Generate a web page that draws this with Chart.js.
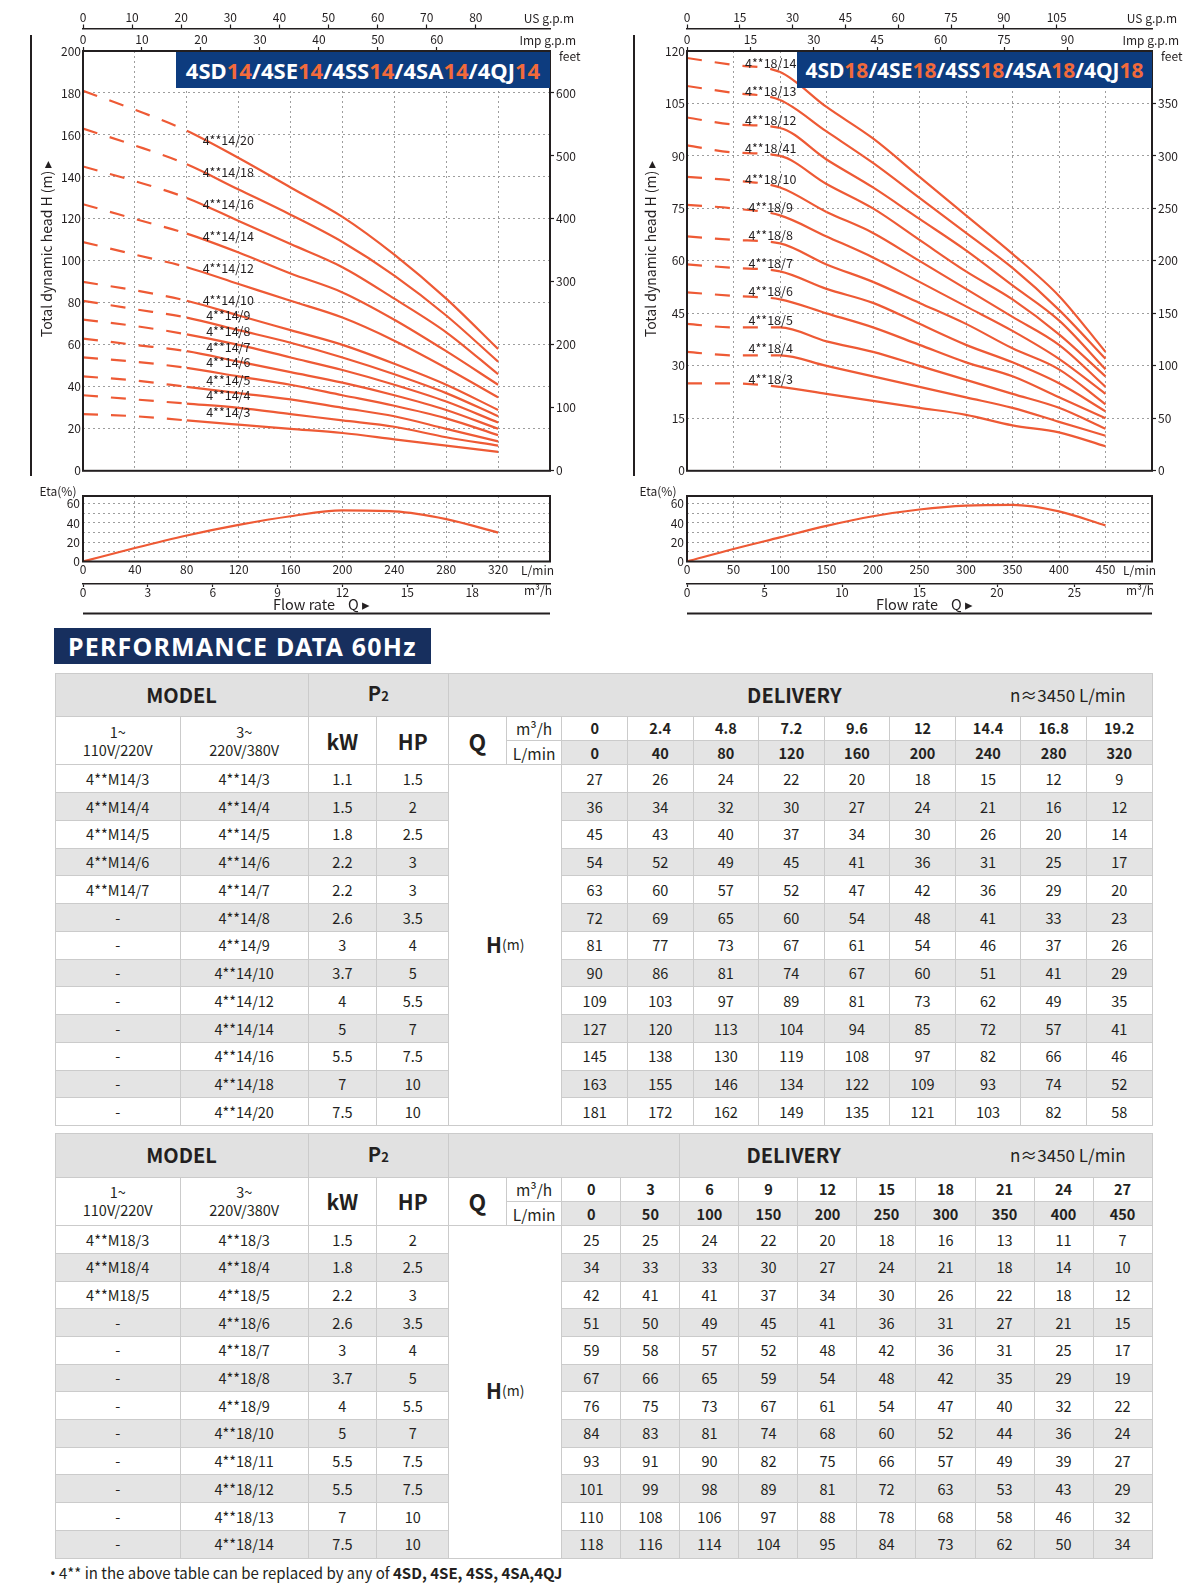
<!DOCTYPE html>
<html>
<head>
<meta charset="utf-8">
<title>4SD14 / 4SD18 performance 60Hz</title>
<script src="https://cdn.jsdelivr.net/npm/chart.js@4.4.1/dist/chart.umd.min.js"></script>
<style>
  body { margin: 0; background: #fff; }
  #page { position: relative; width: 1200px; height: 1587px; overflow: hidden; font-family: "Noto Sans CJK SC", "Noto Sans", sans-serif; color: #231f20; }
  canvas { position: absolute; }
  .vbar { position: absolute; top: 35px; width: 2px; height: 441px; background: #231f20; }
  .tag { position: absolute; top: 52px; height: 36px; background: #0d3c7f; color: #fff; font-family: "Noto Sans", sans-serif; font-weight: 700; font-size: 22px; line-height: 36px; text-align: center; white-space: nowrap; }
  .tag span { color: #f26a3b; }
  .banner { position: absolute; left: 54px; top: 628px; width: 377px; height: 36px; box-sizing: border-box; padding-left: 14px; background: #172f5e; color: #fff; font-family: "Noto Sans", sans-serif; font-weight: 700; font-size: 25px; line-height: 36px; letter-spacing: 1.2px; white-space: nowrap; }
  table.perf { position: absolute; left: 54.5px; width: 1097px; border-collapse: collapse; table-layout: fixed; text-align: center; font-size: 14.5px; color: #231f20; }
  table.perf td { border: 1px solid #cbcbcb; padding: 0; white-space: nowrap; line-height: 18px; }
  .h1 td { background: #e1e1e1; font-weight: 700; font-size: 20px; }
  .sub2 { font-size: 13px; }
  .dl { position: relative; height: 42px; }
  .dl span { position: absolute; top: 0; line-height: 42px; }
  .dl .rpm { right: 26px; font-weight: 400; font-size: 17px; }
  .v { font-size: 14.5px; }
  .big { font-weight: 700; font-size: 21px; }
  .q { font-weight: 700; font-size: 23px; }
  .u { font-size: 15.5px; }
  .hd { font-weight: 700; }
  .g { background: #e4e4e4; }
  .hm { background: #fff; }
  .hm b { font-size: 21px; }
  .hm small { font-size: 14px; position: relative; top: -3px; }
  .note { position: absolute; left: 50px; top: 1562px; font-size: 15px; white-space: nowrap; }
  .note .dot { font-family: "Noto Sans", sans-serif; }
</style>
</head>
<body>
<div id="page">
  <div class="vbar" style="left:29.5px"></div>
  <div class="vbar" style="left:632.5px"></div>
  <canvas id="headL" width="600" height="480" style="left:0;top:0"></canvas>
  <canvas id="etaL" width="600" height="144" style="left:0;top:478px"></canvas>
  <canvas id="headR" width="600" height="480" style="left:600px;top:0"></canvas>
  <canvas id="etaR" width="600" height="144" style="left:600px;top:478px"></canvas>
  <div class="tag" style="left:176px;width:374px">4SD<span>14</span>/4SE<span>14</span>/4SS<span>14</span>/4SA<span>14</span>/4QJ<span>14</span></div>
  <div class="tag" style="left:797px;width:355px;font-size:21px">4SD<span>18</span>/4SE<span>18</span>/4SS<span>18</span>/4SA<span>18</span>/4QJ<span>18</span></div>
  <div class="banner">PERFORMANCE DATA 60Hz</div>
  <table class="perf" id="tab14" style="top:672.8px"></table>
  <table class="perf" id="tab18" style="top:1133.2px"></table>
  <div class="note"><span class="dot">•</span> 4** in the above table can be replaced by any of <b>4SD, 4SE, 4SS, 4SA,4QJ</b></div>
</div>
<script>
// ---- 4**14 series ----
const flow14 = [0, 40, 80, 120, 160, 200, 240, 280, 320];
const m3h14 = [0, 2.4, 4.8, 7.2, 9.6, 12, 14.4, 16.8, 19.2];
const single14 = ['4**M14/3', '4**M14/4', '4**M14/5', '4**M14/6', '4**M14/7', '-', '-', '-', '-', '-', '-', '-', '-'];
const three14 = ['4**14/3', '4**14/4', '4**14/5', '4**14/6', '4**14/7', '4**14/8', '4**14/9', '4**14/10', '4**14/12', '4**14/14', '4**14/16', '4**14/18', '4**14/20'];
const kw14 = [1.1, 1.5, 1.8, 2.2, 2.2, 2.6, 3, 3.7, 4, 5, 5.5, 7, 7.5];
const hp14 = [1.5, 2, 2.5, 3, 3, 3.5, 4, 5, 5.5, 7, 7.5, 10, 10];
const head14 = [
  [27, 26, 24, 22, 20, 18, 15, 12, 9],
  [36, 34, 32, 30, 27, 24, 21, 16, 12],
  [45, 43, 40, 37, 34, 30, 26, 20, 14],
  [54, 52, 49, 45, 41, 36, 31, 25, 17],
  [63, 60, 57, 52, 47, 42, 36, 29, 20],
  [72, 69, 65, 60, 54, 48, 41, 33, 23],
  [81, 77, 73, 67, 61, 54, 46, 37, 26],
  [90, 86, 81, 74, 67, 60, 51, 41, 29],
  [109, 103, 97, 89, 81, 73, 62, 49, 35],
  [127, 120, 113, 104, 94, 85, 72, 57, 41],
  [145, 138, 130, 119, 108, 97, 82, 66, 46],
  [163, 155, 146, 134, 122, 109, 93, 74, 52],
  [181, 172, 162, 149, 135, 121, 103, 82, 58]
];
const curveNames14 = three14;
const eta14 = [0, 14, 27, 38, 47, 53, 52, 44, 30];
const usTicks14 = [0, 10, 20, 30, 40, 50, 60, 70, 80];
const impTicks14 = [0, 10, 20, 30, 40, 50, 60];
const feetTicks14 = [0, 100, 200, 300, 400, 500, 600];
const headTicks14 = [0, 20, 40, 60, 80, 100, 120, 140, 160, 180, 200];
const lminTicks14 = [0, 40, 80, 120, 160, 200, 240, 280, 320];
const m3Ticks14 = [0, 3, 6, 9, 12, 15, 18];

// ---- 4**18 series ----
const flow18 = [0, 50, 100, 150, 200, 250, 300, 350, 400, 450];
const m3h18 = [0, 3, 6, 9, 12, 15, 18, 21, 24, 27];
const single18 = ['4**M18/3', '4**M18/4', '4**M18/5', '-', '-', '-', '-', '-', '-', '-', '-', '-'];
const three18 = ['4**18/3', '4**18/4', '4**18/5', '4**18/6', '4**18/7', '4**18/8', '4**18/9', '4**18/10', '4**18/11', '4**18/12', '4**18/13', '4**18/14'];
const kw18 = [1.5, 1.8, 2.2, 2.6, 3, 3.7, 4, 5, 5.5, 5.5, 7, 7.5];
const hp18 = [2, 2.5, 3, 3.5, 4, 5, 5.5, 7, 7.5, 7.5, 10, 10];
const head18 = [
  [25, 25, 24, 22, 20, 18, 16, 13, 11, 7],
  [34, 33, 33, 30, 27, 24, 21, 18, 14, 10],
  [42, 41, 41, 37, 34, 30, 26, 22, 18, 12],
  [51, 50, 49, 45, 41, 36, 31, 27, 21, 15],
  [59, 58, 57, 52, 48, 42, 36, 31, 25, 17],
  [67, 66, 65, 59, 54, 48, 42, 35, 29, 19],
  [76, 75, 73, 67, 61, 54, 47, 40, 32, 22],
  [84, 83, 81, 74, 68, 60, 52, 44, 36, 24],
  [93, 91, 90, 82, 75, 66, 57, 49, 39, 27],
  [101, 99, 98, 89, 81, 72, 63, 53, 43, 29],
  [110, 108, 106, 97, 88, 78, 68, 58, 46, 32],
  [118, 116, 114, 104, 95, 84, 73, 62, 50, 34]
];
const curveNames18 = ['4**18/3', '4**18/4', '4**18/5', '4**18/6', '4**18/7', '4**18/8', '4**18/9', '4**18/10', '4**18/41', '4**18/12', '4**18/13', '4**18/14'];
const eta18 = [0, 13, 25, 37, 47, 54, 58, 58.7, 52, 37.5];
const usTicks18 = [0, 15, 30, 45, 60, 75, 90, 105];
const impTicks18 = [0, 15, 30, 45, 60, 75, 90];
const feetTicks18 = [0, 50, 100, 150, 200, 250, 300, 350];
const headTicks18 = [0, 15, 30, 45, 60, 75, 90, 105, 120];
const lminTicks18 = [0, 50, 100, 150, 200, 250, 300, 350, 400, 450];
const m3Ticks18 = [0, 5, 10, 15, 20, 25];

const etaTicks = [0, 10, 20, 30, 40, 50, 60];

const ORANGE = '#ee5a35';
const INK = '#231f20';
const GRID = '#9d9d9d';
const DOTS = [2, 3];
const FAM = '"Noto Sans CJK SC", "Noto Sans", sans-serif';

Chart.defaults.font.family = FAM;
Chart.defaults.color = INK;
Chart.defaults.animation = false;
Chart.defaults.plugins.legend.display = false;
Chart.defaults.plugins.tooltip.enabled = false;

const setTicks = list => s => { s.ticks = list.map(v => ({ value: v })); };
const fixW = w => s => { s.width = w; };
const fixH = h => s => { s.height = h; };

function lerp(xs, ys, x) {
  for (let i = 1; i < xs.length; i++) {
    if (x <= xs[i]) return ys[i - 1] + (ys[i] - ys[i - 1]) * (x - xs[i - 1]) / (xs[i] - xs[i - 1]);
  }
  return ys[ys.length - 1];
}

function headChart(id, c) {
  const datasets = c.heads.map(h => ({
    data: c.flow.map((q, j) => ({ x: q, y: h[j] })),
    borderColor: ORANGE,
    borderWidth: 2.2,
    pointRadius: 0,
    cubicInterpolationMode: 'monotone',
    segment: { borderDash: s => (s.p1.parsed.x <= c.dashTo ? [15, 13] : undefined) }
  }));

  const extras = {
    id: 'extras',
    afterDatasetsDraw(chart) {
      const { ctx, chartArea: a, scales: { x, y, xUS, xImp, yFeet } } = chart;
      ctx.save();
      ctx.fillStyle = INK;
      ctx.textBaseline = 'middle';
      // curve names
      ctx.font = '12.5px ' + FAM;
      ctx.textAlign = 'center';
      c.names.forEach((n, i) => {
        const v = lerp(c.flow, c.heads[i], c.labelAt);
        ctx.fillText(n, x.getPixelForValue(c.labelAt), y.getPixelForValue(v) - c.labelLift);
      });
      // frame
      ctx.strokeStyle = INK;
      ctx.lineWidth = 2;
      ctx.strokeRect(a.left, a.top, a.right - a.left, a.bottom - a.top);
      // unit names
      ctx.font = '12px ' + FAM;
      ctx.textAlign = 'right';
      ctx.fillText('US g.p.m', chart.width - c.unitRight, xUS.bottom - 10.5);
      ctx.fillText('Imp g.p.m', chart.width - c.unitRight + 2, xImp.bottom - 11);
      ctx.textAlign = 'left';
      ctx.fillText('feet', yFeet.left + 9, a.top + 5);
      // axis title
      ctx.translate(c.titleX, (a.top + a.bottom) / 2 - 12);
      ctx.rotate(-Math.PI / 2);
      ctx.textAlign = 'center';
      ctx.font = '14px ' + FAM;
      ctx.fillText('Total dynamic head H (m) ▸', 0, 0);
      ctx.restore();
    }
  };

  const topAxis = (list, max, h, weight, border) => ({
    type: 'linear', position: 'top', weight, min: 0, max,
    afterBuildTicks: setTicks(list), afterFit: fixH(h),
    ticks: { font: { size: 12 }, padding: 0, autoSkip: false, maxRotation: 0 },
    grid: { drawOnChartArea: false, tickLength: 4, color: INK, tickWidth: 1.2 },
    border: { display: border, color: INK, width: 1.5 }
  });

  return new Chart(document.getElementById(id), {
    type: 'line',
    data: { datasets },
    options: {
      responsive: false,
      layout: { padding: 0 },
      scales: {
        x: {
          type: 'linear', position: 'bottom', weight: 0, min: 0, max: c.xMax,
          ticks: { display: false, stepSize: c.xStep },
          grid: { color: GRID, drawTicks: false },
          border: { display: false, dash: DOTS },
          afterFit: fixH(4)
        },
        y: {
          type: 'linear', position: 'left', min: 0, max: c.yMax,
          afterBuildTicks: setTicks(c.headTicks), afterFit: fixW(c.leftW),
          ticks: { font: { size: 12 }, padding: 2, autoSkip: false },
          grid: { color: GRID, drawTicks: false },
          border: { display: false, dash: DOTS }
        },
        yFeet: {
          type: 'linear', position: 'right', min: 0, max: c.yMax / 0.3,
          afterBuildTicks: setTicks(c.feetTicks), afterFit: fixW(c.rightW),
          ticks: { font: { size: 12 }, padding: 2, autoSkip: false },
          grid: { drawOnChartArea: false, tickLength: 4, color: INK, tickWidth: 1.2 },
          border: { display: false }
        },
        xImp: topAxis(c.impTicks, c.xMax / 4.54609, 22.5, 1, false),
        xUS: topAxis(c.usTicks, c.xMax / 3.78541, 28.5, 2, true)
      }
    },
    plugins: [extras]
  });
}

function etaChart(id, c) {
  const extras = {
    id: 'extras',
    afterDatasetsDraw(chart) {
      const { ctx, chartArea: a, scales: { x, m3 } } = chart;
      ctx.save();
      ctx.strokeStyle = INK;
      ctx.lineWidth = 2;
      ctx.strokeRect(a.left, a.top, a.right - a.left, a.bottom - a.top);
      ctx.beginPath();
      ctx.moveTo(a.left, m3.top + 29.5);
      ctx.lineTo(a.right, m3.top + 29.5);
      ctx.stroke();
      ctx.fillStyle = INK;
      ctx.textBaseline = 'middle';
      ctx.font = '12px ' + FAM;
      ctx.textAlign = 'center';
      ctx.fillText('Eta(%)', 58, 13.5);
      ctx.textAlign = 'right';
      ctx.fillText('L/min', a.right + 4, x.top + 8.5);
      ctx.fillText('m³/h', a.right + 2, m3.top + 6.5);
      ctx.textAlign = 'center';
      ctx.font = '14.5px ' + FAM;
      ctx.fillText('Flow rate    Q ▸', (a.left + a.right) / 2 + 5, m3.top + 20);
      ctx.restore();
    }
  };

  return new Chart(document.getElementById(id), {
    type: 'line',
    data: {
      datasets: [{
        data: c.flow.map((q, j) => ({ x: q, y: c.eta[j] })),
        borderColor: ORANGE, borderWidth: 2.2, pointRadius: 0, cubicInterpolationMode: 'monotone'
      }]
    },
    options: {
      responsive: false,
      layout: { padding: { top: 18, bottom: 8, left: 0, right: c.rightW } },
      scales: {
        x: {
          type: 'linear', position: 'bottom', weight: 0, min: 0, max: c.xMax,
          afterBuildTicks: setTicks(c.lminTicks), afterFit: fixH(22.5),
          ticks: { font: { size: 12 }, padding: 1, autoSkip: false, maxRotation: 0 },
          grid: { color: GRID, drawTicks: false },
          border: { display: false, dash: DOTS }
        },
        m3: {
          type: 'linear', position: 'bottom', weight: 1, min: 0, max: c.xMax * 0.06,
          afterBuildTicks: setTicks(c.m3Ticks), afterFit: fixH(30),
          ticks: { font: { size: 12 }, padding: -2, autoSkip: false, maxRotation: 0 },
          grid: { drawOnChartArea: false, tickLength: 3, color: INK, tickWidth: 1.2 },
          border: { display: true, color: INK, width: 1.5 }
        },
        y: {
          type: 'linear', position: 'left', min: 0, max: 68,
          afterBuildTicks: setTicks(etaTicks), afterFit: fixW(c.leftW),
          ticks: { font: { size: 12 }, padding: 3, autoSkip: false, callback: v => (v % 20 === 0 ? v : '') },
          grid: { color: GRID, drawTicks: false },
          border: { display: false, dash: DOTS }
        }
      }
    },
    plugins: [extras]
  });
}

headChart('headL', {
  flow: flow14, heads: head14, names: curveNames14, xMax: 360, xStep: 40, yMax: 200,
  headTicks: headTicks14, feetTicks: feetTicks14, usTicks: usTicks14, impTicks: impTicks14,
  leftW: 83, rightW: 50, dashTo: 80, labelAt: 112, labelLift: 12, titleX: 46.5, unitRight: 26
});
etaChart('etaL', { flow: flow14, eta: eta14, xMax: 360, lminTicks: lminTicks14, m3Ticks: m3Ticks14, leftW: 83, rightW: 50 });

headChart('headR', {
  flow: flow18, heads: head18, names: curveNames18, xMax: 500, xStep: 50, yMax: 120,
  headTicks: headTicks18, feetTicks: feetTicks18, usTicks: usTicks18, impTicks: impTicks18,
  leftW: 87, rightW: 48, dashTo: 100, labelAt: 90, labelLift: 7, titleX: 50.7, unitRight: 23
});
etaChart('etaR', { flow: flow18, eta: eta18, xMax: 500, lminTicks: lminTicks18, m3Ticks: m3Ticks18, leftW: 87, rightW: 48 });

// ---- tables ----
function buildTable(id, t) {
  const n = t.flow.length;
  const dw = 590.2 / n;
  let h = '<colgroup>' + [125.4, 127.6, 68.8, 71.8, 57.7, 55.6].map(w => `<col style="width:${w}px">`).join('') +
    t.flow.map(() => `<col style="width:${dw}px">`).join('') + '</colgroup>';
  h += `<tr class="h1" style="height:${t.h1}px"><td colspan="2">MODEL</td><td colspan="2">P<span class="sub2">2</span></td>`;
  if (t.blank) h += `<td colspan="${t.blank}"></td>`;
  h += `<td colspan="${2 + n - t.blank}"><div class="dl"><span style="left:${t.dLeft}px">DELIVERY</span><span class="rpm">n≈3450 L/min</span></div></td></tr>`;
  h += '<tr style="height:24.3px"><td rowspan="2" class="v">1~<br>110V/220V</td><td rowspan="2" class="v">3~<br>220V/380V</td>' +
    '<td rowspan="2" class="big">kW</td><td rowspan="2" class="big">HP</td><td rowspan="2" class="q">Q</td><td class="u">m³/h</td>' +
    t.m3.map(v => `<td class="hd">${v}</td>`).join('') + '</tr>';
  h += '<tr style="height:24.3px"><td class="u">L/min</td>' + t.flow.map(v => `<td class="hd g">${v}</td>`).join('') + '</tr>';
  t.three.forEach((m, i) => {
    const g = i % 2 ? ' class="g"' : '';
    h += `<tr style="height:${t.rowH}px"><td${g}>${t.single[i]}</td><td${g}>${m}</td><td${g}>${t.kw[i]}</td><td${g}>${t.hp[i]}</td>`;
    if (i === 0) h += `<td colspan="2" rowspan="${t.three.length}" class="hm"><b>H</b><small>(m)</small></td>`;
    h += t.heads[i].map(v => `<td${g}>${v}</td>`).join('') + '</tr>';
  });
  document.getElementById(id).innerHTML = h;
}

buildTable('tab14', { flow: flow14, m3: m3h14, single: single14, three: three14, kw: kw14, hp: hp14, heads: head14, h1: 42.5, rowH: 27.75, blank: 0, dLeft: 298 });
buildTable('tab18', { flow: flow18, m3: m3h18, single: single18, three: three18, kw: kw18, hp: hp18, heads: head18, h1: 43.5, rowH: 27.7, blank: 4, dLeft: 66 });
</script>
</body>
</html>
